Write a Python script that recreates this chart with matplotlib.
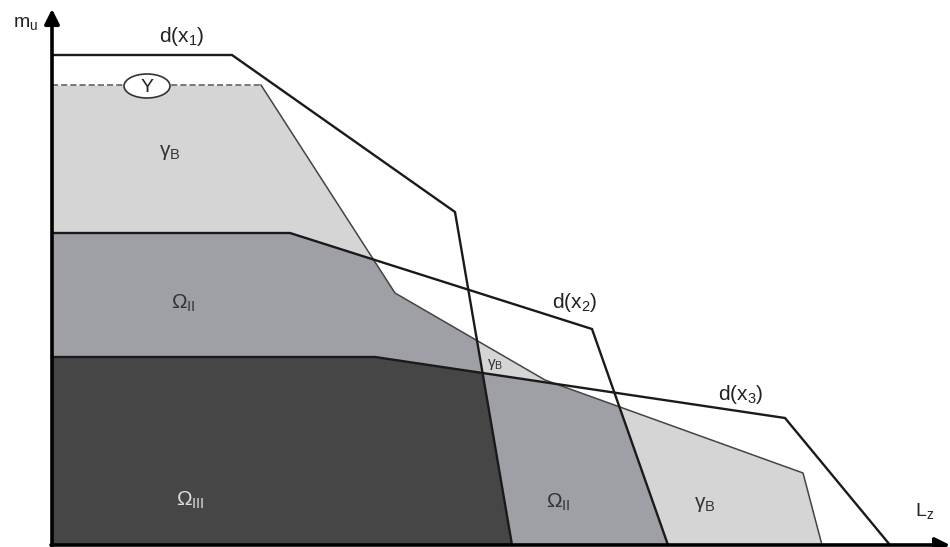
import numpy as np
import matplotlib
matplotlib.use("Agg")
import matplotlib.pyplot as plt
from matplotlib.patches import Ellipse

plt.rcParams['font.family'] = ['Liberation Sans', 'DejaVu Sans']
plt.rcParams['mathtext.default'] = 'regular'

# break points of the three demand curves d(x_i), (L_z, m_u)
d1_x = [0, 180, 403, 460]
d1_y = [490, 490, 333, 0]
d2_x = [0, 238, 540, 616]
d2_y = [312, 312, 216, 0]
d3_x = [0, 323, 733, 838]
d3_y = [188, 188, 127, 0]

# boundary of the set Y
y_x = [0, 209, 343, 493, 751, 770]
y_y = [460, 460, 252, 165, 72, 0]

light = '#d5d5d5'
medium = '#9f9fa6'
dark = '#464646'


def curve(x, px, py):
    return np.interp(x, px, py, right=0)


x = np.union1d(np.linspace(0, 840, 6000), d1_x + d2_x + d3_x + y_x)
d = np.vstack([curve(x, d1_x, d1_y), curve(x, d2_x, d2_y), curve(x, d3_x, d3_y)])
bound = curve(x, y_x, y_y)
d_sorted = np.sort(d, axis=0)

fig = plt.figure(figsize=(9.5, 5.47), dpi=100)
ax = fig.add_axes([0, 0, 1, 1])
ax.set_xlim(-52, 898)
ax.set_ylim(-2, 545)
ax.axis('off')

# shade by number of curves a point of Y lies under
ax.fill_between(x, 0, np.minimum(bound, d_sorted[2]), color=light, lw=0)
ax.fill_between(x, 0, np.minimum(bound, d_sorted[1]), color=medium, lw=0)
ax.fill_between(x, 0, np.minimum(bound, d_sorted[0]), color=dark, lw=0)

# boundary of Y
ax.plot(y_x[:2], y_y[:2], color='#555555', lw=1.1, ls=(0, (4, 2)))
ax.plot(y_x[1:], y_y[1:], color='#444444', lw=1.1)

for px, py in [(d1_x, d1_y), (d2_x, d2_y), (d3_x, d3_y)]:
    ax.plot(px, py, color='#1a1a1a', lw=1.7, solid_joinstyle='miter')

# axes with arrows
ax.annotate('', xy=(0, 536), xytext=(0, -1),
            arrowprops=dict(arrowstyle='-|>', lw=2.6, color='black',
                            mutation_scale=22, shrinkA=0, shrinkB=0))
ax.annotate('', xy=(898, 0), xytext=(-1, 0),
            arrowprops=dict(arrowstyle='-|>', lw=2.6, color='black',
                            mutation_scale=22, shrinkA=0, shrinkB=0))

ax.add_patch(Ellipse((95, 459), 46, 24, facecolor='white',
                     edgecolor='#333333', lw=1.2, zorder=5))
ax.text(95, 458, 'Y', fontsize=14, ha='center', va='center', color='#222222', zorder=6)

ax.text(-26, 522, 'm$_u$', fontsize=14, ha='center', va='center', color='#222222')
ax.text(873, 34, 'L$_z$', fontsize=14, ha='center', va='center', color='#222222')

ax.text(130, 508, 'd(x$_1$)', fontsize=15, ha='center', va='center', color='#222222')
ax.text(523, 243, 'd(x$_2$)', fontsize=15, ha='center', va='center', color='#222222')
ax.text(689, 151, 'd(x$_3$)', fontsize=15, ha='center', va='center', color='#222222')

ax.text(118, 393, '$\\gamma_B$', fontsize=15, ha='center', va='center', color='#333333')
ax.text(443, 180, '$\\gamma_B$', fontsize=11, ha='center', va='center', color='#333333')
ax.text(653, 40, '$\\gamma_B$', fontsize=15, ha='center', va='center', color='#333333')
ax.text(131, 242, '$\\Omega_{II}$', fontsize=15, ha='center', va='center', color='#333333')
ax.text(506, 43, '$\\Omega_{II}$', fontsize=15, ha='center', va='center', color='#333333')
ax.text(138, 45, '$\\Omega_{III}$', fontsize=15, ha='center', va='center', color='#dddddd')

fig.savefig('out.png', dpi=100)
